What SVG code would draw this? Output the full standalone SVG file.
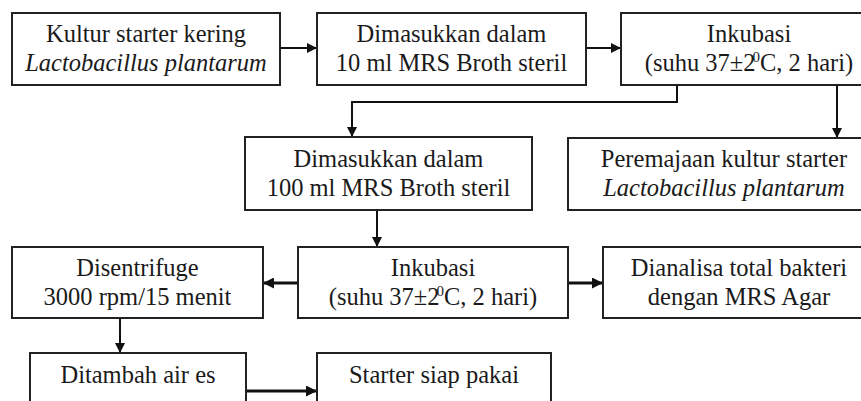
<svg xmlns="http://www.w3.org/2000/svg" width="861" height="401" viewBox="0 0 861 401">
<style>
.box{fill:#fff;stroke:#222;stroke-width:2}
.t{font-family:"Liberation Serif","Times New Roman",serif;font-size:24.5px;fill:#1a1a1a;text-anchor:middle}
.i{font-style:italic}
.c{fill:none;stroke:#111;stroke-width:2}
.c3{fill:none;stroke:#111;stroke-width:3}
.sup{font-size:15px}
</style>
<defs>
<marker id="ah" markerWidth="10" markerHeight="10" refX="10" refY="5" orient="auto" markerUnits="userSpaceOnUse">
<path d="M0,0 L10,5 L0,10 Z" fill="#111"/>
</marker>
<marker id="ah3" markerWidth="11" markerHeight="11" refX="11" refY="5.5" orient="auto" markerUnits="userSpaceOnUse">
<path d="M0,0 L11,5.5 L0,11 Z" fill="#111"/>
</marker>
</defs>
<rect width="861" height="401" fill="#fff"/>
<g id="connectors">
<path class="c" d="M280,48 H317" marker-end="url(#ah)"/>
<path class="c" d="M586,48 H621" marker-end="url(#ah)"/>
<path class="c" d="M677,85 V102 H352 V137" marker-end="url(#ah)"/>
<path class="c" d="M837,85 V138" marker-end="url(#ah)"/>
<path class="c" d="M377,210 V247" marker-end="url(#ah)"/>
<path class="c3" d="M298,283 H263" marker-end="url(#ah3)"/>
<path class="c3" d="M568,283 H603" marker-end="url(#ah3)"/>
<path class="c" d="M120,318 V353" marker-end="url(#ah)"/>
<path class="c3" d="M246,391 H317" marker-end="url(#ah3)"/>
</g>
<g id="n1">
<rect class="box" x="12" y="13" width="268" height="72"/>
<text class="t" x="146" y="42">Kultur starter kering</text>
<text class="t i" x="146" y="71">Lactobacillus plantarum</text>
</g>
<g id="n2">
<rect class="box" x="317" y="13" width="269" height="72"/>
<text class="t" x="451.5" y="42">Dimasukkan dalam</text>
<text class="t" x="451.5" y="71">10 ml MRS Broth steril</text>
</g>
<g id="n3">
<rect class="box" x="621" y="13" width="260" height="72"/>
<text class="t" x="749" y="42">Inkubasi</text>
<text class="t" x="749" y="71">(suhu 37±2<tspan class="sup" dx="-3" dy="-9">0</tspan><tspan dy="9">C, 2 hari)</tspan></text>
</g>
<g id="n4">
<rect class="box" x="245" y="137" width="287" height="73"/>
<text class="t" x="388.5" y="167">Dimasukkan dalam</text>
<text class="t" x="388.5" y="196">100 ml MRS Broth steril</text>
</g>
<g id="n5">
<rect class="box" x="568" y="138" width="312" height="72"/>
<text class="t" x="724" y="167">Peremajaan kultur starter</text>
<text class="t i" x="724" y="196">Lactobacillus plantarum</text>
</g>
<g id="n6">
<rect class="box" x="298" y="247" width="270" height="71"/>
<text class="t" x="433" y="276">Inkubasi</text>
<text class="t" x="433" y="305">(suhu 37±2<tspan class="sup" dx="-3" dy="-9">0</tspan><tspan dy="9">C, 2 hari)</tspan></text>
</g>
<g id="n7">
<rect class="box" x="12" y="247" width="251" height="71"/>
<text class="t" x="137.5" y="276">Disentrifuge</text>
<text class="t" x="137.5" y="305">3000 rpm/15 menit</text>
</g>
<g id="n8">
<rect class="box" x="603" y="247" width="272" height="71"/>
<text class="t" x="739" y="276">Dianalisa total bakteri</text>
<text class="t" x="739" y="305">dengan MRS Agar</text>
</g>
<g id="n9">
<rect class="box" x="30" y="353" width="216" height="60"/>
<text class="t" x="138" y="383">Ditambah air es</text>
</g>
<g id="n10">
<rect class="box" x="317" y="353" width="234" height="60"/>
<text class="t" x="434" y="383">Starter siap pakai</text>
</g>
</svg>
